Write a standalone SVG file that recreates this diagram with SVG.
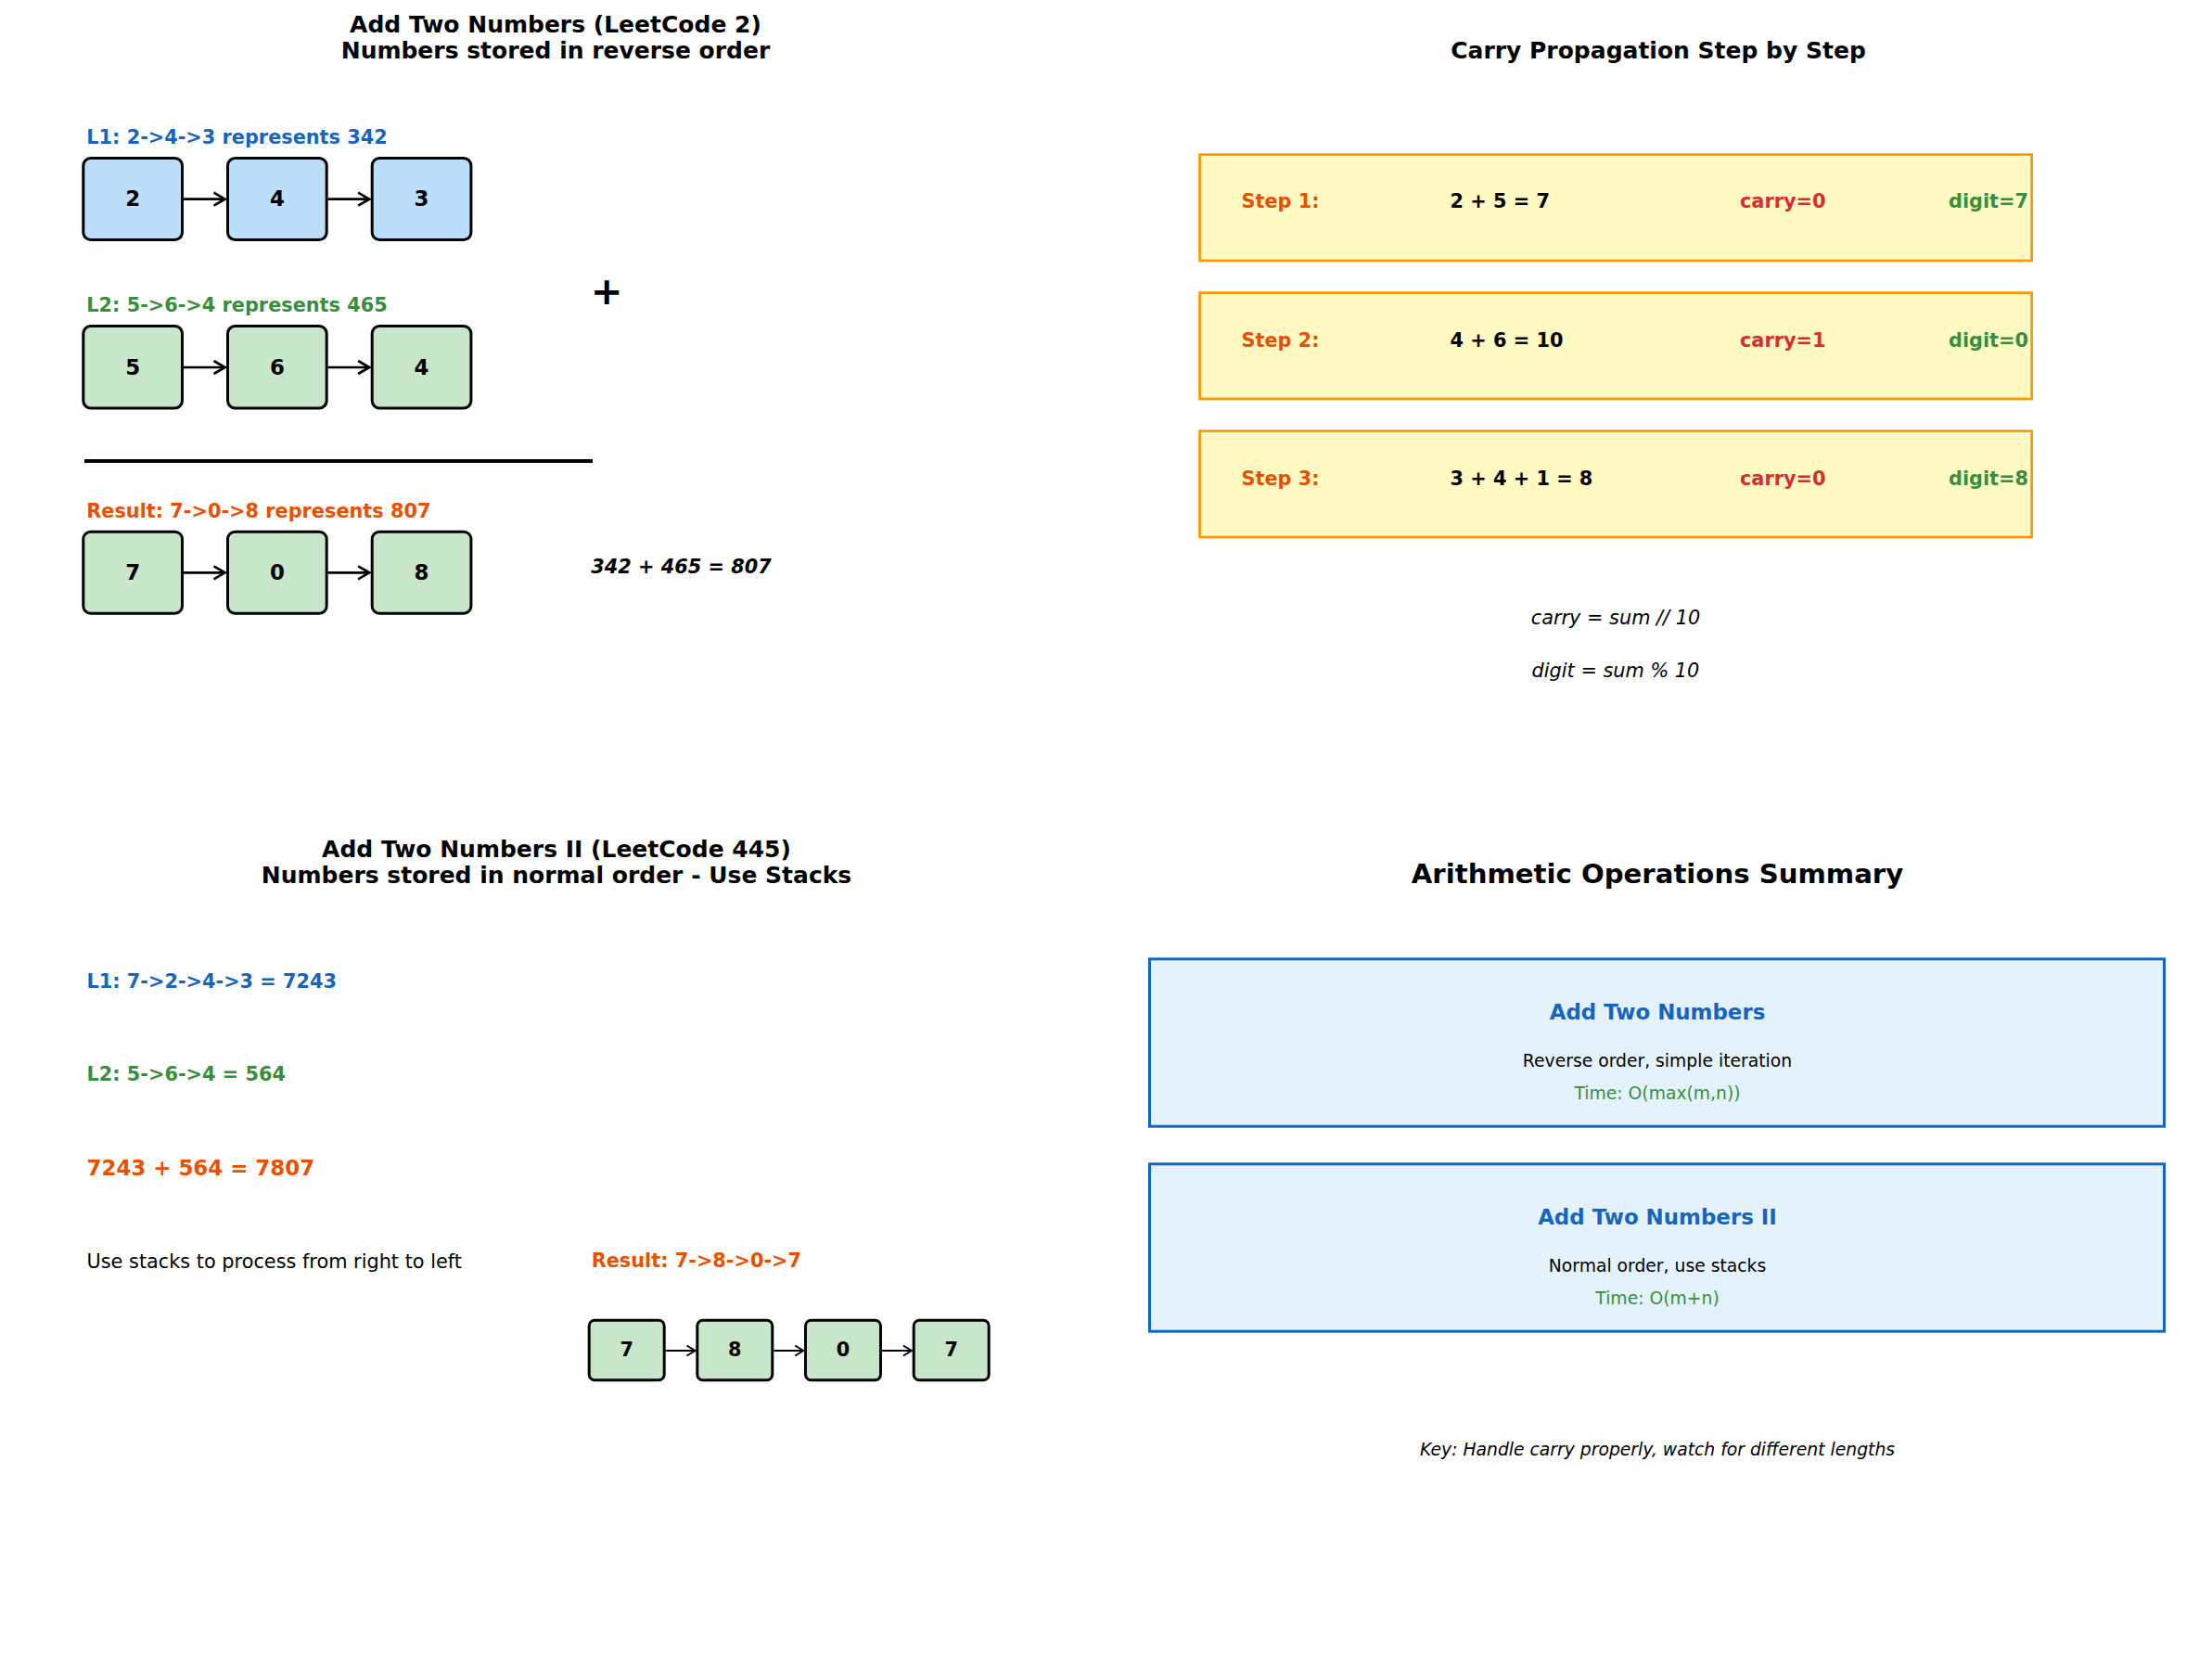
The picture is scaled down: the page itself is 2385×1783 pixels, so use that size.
<svg xmlns="http://www.w3.org/2000/svg" width="2385" height="1783" viewBox="0 0 2385 1783">
<style>
text { font-family: "DejaVu Sans", "Liberation Sans", sans-serif; }
.b { font-weight: bold; }
.t12 { font-size: 25px; font-weight: bold; fill: #000; text-anchor: middle; }
.t14 { font-size: 29.17px; font-weight: bold; fill: #000; text-anchor: middle; }
.s10 { font-size: 20.83px; }
.s9 { font-size: 18.75px; }
.s11 { font-size: 22.92px; }
.blue { fill: #1565C0; }
.green { fill: #388E3C; }
.orange { fill: #E65100; }
.red { fill: #D32F2F; }
.blk { fill: #000; }
.mid { text-anchor: middle; }
.it { font-style: italic; }
.nodeB { fill: #BBDEFB; stroke: #000; stroke-width: 3; }
.nodeG { fill: #C8E6C9; stroke: #000; stroke-width: 3; }
.step { fill: #FFF9C4; stroke: #FF9800; stroke-width: 2.7; }
.sum { fill: #E3F2FD; stroke: #1565C0; stroke-width: 3; }
.conn { stroke: #000; stroke-width: 2.7; fill: none; }
.conn2 { stroke: #000; stroke-width: 2; fill: none; }
</style>
<defs>
<marker id="ah" markerUnits="userSpaceOnUse" markerWidth="30" markerHeight="30" refX="0" refY="0" orient="auto" overflow="visible">
<path d="M-12,-7 L0,0 L-12,7" fill="none" stroke="#000" stroke-width="2.7"/>
</marker>
<marker id="ahs" markerUnits="userSpaceOnUse" markerWidth="30" markerHeight="30" refX="0" refY="0" orient="auto" overflow="visible">
<path d="M-9,-5.5 L0,0 L-9,5.5" fill="none" stroke="#000" stroke-width="2"/>
</marker>
</defs>
<rect x="0" y="0" width="2385" height="1783" fill="#fff"/>

<!-- Panel 1 -->
<g id="title1">
<text class="t12" x="599" y="35">Add Two Numbers (LeetCode 2)</text>
<text class="t12" x="599" y="63">Numbers stored in reverse order</text>
</g>
<text class="b s10 blue" x="93.3" y="155">L1: 2-&gt;4-&gt;3 represents 342</text>
<g id="l1n1"><rect class="nodeB" x="89.8" y="170.5" width="106.7" height="88" rx="8"/><text class="b s11 blk mid" x="143.2" y="222">2</text></g>
<g id="l1n2"><rect class="nodeB" x="245.5" y="170.5" width="106.7" height="88" rx="8"/><text class="b s11 blk mid" x="298.9" y="222">4</text></g>
<g id="l1n3"><rect class="nodeB" x="401.2" y="170.5" width="106.7" height="88" rx="8"/><text class="b s11 blk mid" x="454.6" y="222">3</text></g>

<text class="b s10 green" x="93.3" y="336">L2: 5-&gt;6-&gt;4 represents 465</text>
<g id="l2n1"><rect class="nodeG" x="89.8" y="351.5" width="106.7" height="88.5" rx="8"/><text class="b s11 blk mid" x="143.2" y="403.5">5</text></g>
<g id="l2n2"><rect class="nodeG" x="245.5" y="351.5" width="106.7" height="88.5" rx="8"/><text class="b s11 blk mid" x="298.9" y="403.5">6</text></g>
<g id="l2n3"><rect class="nodeG" x="401.2" y="351.5" width="106.7" height="88.5" rx="8"/><text class="b s11 blk mid" x="454.6" y="403.5">4</text></g>

<text class="b blk mid" style="font-size:41.67px" x="654.3" y="328">+</text>
<line x1="91" y1="497" x2="639" y2="497" stroke="#000" stroke-width="4"/>

<text class="b s10 orange" x="93.3" y="558">Result: 7-&gt;0-&gt;8 represents 807</text>
<g id="rn1"><rect class="nodeG" x="89.8" y="573.2" width="106.7" height="88" rx="8"/><text class="b s11 blk mid" x="143.2" y="625">7</text></g>
<g id="rn2"><rect class="nodeG" x="245.5" y="573.2" width="106.7" height="88" rx="8"/><text class="b s11 blk mid" x="298.9" y="625">0</text></g>
<g id="rn3"><rect class="nodeG" x="401.2" y="573.2" width="106.7" height="88" rx="8"/><text class="b s11 blk mid" x="454.6" y="625">8</text></g>
<text class="b it s10 blk" x="637.3" y="618">342 + 465 = 807</text>

<!-- Panel 2 -->
<g id="title2"><text class="t12" x="1788" y="63">Carry Propagation Step by Step</text></g>
<g id="step1">
<rect class="step" x="1293.6" y="166.6" width="897" height="114.4"/>
<text class="b s10 orange" x="1338.5" y="224">Step 1:</text>
<text class="b s10 blk" x="1563.5" y="224">2 + 5 = 7</text>
<text class="b s10 red" x="1876" y="224">carry=0</text>
<text class="b s10 green" x="2101" y="224">digit=7</text>
</g>
<g id="step2">
<rect class="step" x="1293.6" y="315.6" width="897" height="114.4"/>
<text class="b s10 orange" x="1338.5" y="374">Step 2:</text>
<text class="b s10 blk" x="1563.5" y="374">4 + 6 = 10</text>
<text class="b s10 red" x="1876" y="374">carry=1</text>
<text class="b s10 green" x="2101" y="374">digit=0</text>
</g>
<g id="step3">
<rect class="step" x="1293.6" y="464.6" width="897" height="114.4"/>
<text class="b s10 orange" x="1338.5" y="523">Step 3:</text>
<text class="b s10 blk" x="1563.5" y="523">3 + 4 + 1 = 8</text>
<text class="b s10 red" x="1876" y="523">carry=0</text>
<text class="b s10 green" x="2101" y="523">digit=8</text>
</g>
<text class="it s10 blk mid" x="1742" y="673">carry = sum // 10</text>
<text class="it s10 blk mid" x="1742" y="730">digit = sum % 10</text>

<!-- Panel 3 -->
<g id="title3">
<text class="t12" x="600" y="923.5">Add Two Numbers II (LeetCode 445)</text>
<text class="t12" x="600" y="951.5">Numbers stored in normal order - Use Stacks</text>
</g>
<text class="b s10 blue" x="93.5" y="1064.5">L1: 7-&gt;2-&gt;4-&gt;3 = 7243</text>
<text class="b s10 green" x="93.5" y="1165">L2: 5-&gt;6-&gt;4 = 564</text>
<text class="b s11 orange" x="93.5" y="1267">7243 + 564 = 7807</text>
<text class="s10 blk" x="93.5" y="1367">Use stacks to process from right to left</text>
<text class="b s10 orange" x="637.7" y="1366">Result: 7-&gt;8-&gt;0-&gt;7</text>
<g id="r2n1"><rect class="nodeG" x="635.2" y="1423.2" width="81" height="64.6" rx="6"/><text class="b s10 blk mid" x="675.7" y="1462.3">7</text></g>
<g id="r2n2"><rect class="nodeG" x="751.8" y="1423.2" width="81" height="64.6" rx="6"/><text class="b s10 blk mid" x="792.3" y="1462.3">8</text></g>
<g id="r2n3"><rect class="nodeG" x="868.5" y="1423.2" width="81" height="64.6" rx="6"/><text class="b s10 blk mid" x="909" y="1462.3">0</text></g>
<g id="r2n4"><rect class="nodeG" x="985.2" y="1423.2" width="81" height="64.6" rx="6"/><text class="b s10 blk mid" x="1025.7" y="1462.3">7</text></g>

<!-- Panel 4 -->
<g id="title4"><text class="t14" x="1787" y="951.5">Arithmetic Operations Summary</text></g>
<g id="sum1">
<rect class="sum" x="1239.5" y="1033.8" width="1094" height="180.4"/>
<text class="b s11 blue mid" x="1787" y="1099.3">Add Two Numbers</text>
<text class="s9 blk mid" x="1787" y="1150">Reverse order, simple iteration</text>
<text class="s9 green mid" x="1787" y="1185">Time: O(max(m,n))</text>
</g>
<g id="sum2">
<rect class="sum" x="1239.5" y="1254.8" width="1094" height="180.4"/>
<text class="b s11 blue mid" x="1787" y="1320.3">Add Two Numbers II</text>
<text class="s9 blk mid" x="1787" y="1371">Normal order, use stacks</text>
<text class="s9 green mid" x="1787" y="1406">Time: O(m+n)</text>
</g>
<text class="it s9 blk mid" x="1787" y="1569">Key: Handle carry properly, watch for different lengths</text>

<!-- Connectors -->
<g id="connectors">
<line class="conn" x1="198" y1="214.7" x2="242.5" y2="214.7" marker-end="url(#ah)"/>
<line class="conn" x1="353.7" y1="214.7" x2="398.2" y2="214.7" marker-end="url(#ah)"/>
<line class="conn" x1="198" y1="396" x2="242.5" y2="396" marker-end="url(#ah)"/>
<line class="conn" x1="353.7" y1="396" x2="398.2" y2="396" marker-end="url(#ah)"/>
<line class="conn" x1="198" y1="617.3" x2="242.5" y2="617.3" marker-end="url(#ah)"/>
<line class="conn" x1="353.7" y1="617.3" x2="398.2" y2="617.3" marker-end="url(#ah)"/>
<line class="conn2" x1="717.7" y1="1456" x2="749.5" y2="1456" marker-end="url(#ahs)"/>
<line class="conn2" x1="834.3" y1="1456" x2="866.2" y2="1456" marker-end="url(#ahs)"/>
<line class="conn2" x1="951" y1="1456" x2="982.9" y2="1456" marker-end="url(#ahs)"/>
</g>
</svg>
